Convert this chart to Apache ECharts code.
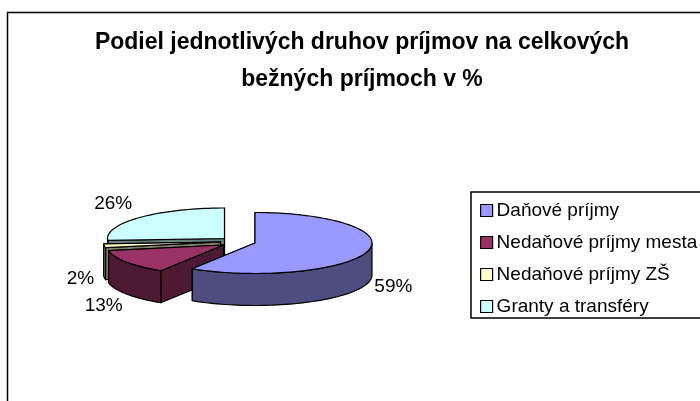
<!DOCTYPE html>
<html><head><meta charset="utf-8">
<style>html,body{margin:0;padding:0;background:#fff}#c{width:700px;height:401px}</style>
<script src="https://cdn.jsdelivr.net/npm/echarts@6/dist/echarts.min.js"></script>
</head><body><div id="c"></div>
<script>
const categories = ['Daňové príjmy','Nedaňové príjmy mesta','Nedaňové príjmy ZŠ','Granty a transféry'];
const values = [59,13,2,26];
const topColors = ['#9999ff','#993366','#ffffcc','#ccffff'];
const sideColors = ['#4d4d80','#4d1a33','#808066','#668080'];
const titleLines = ['Podiel jednotlivých druhov príjmov na celkových','bežných príjmoch v %'];

const RX = 117, RY = 30.5, DEPTH = 32;
const apex = [[255,243],[223.5,245],[220.5,242],[224.5,238.5]];
const labelOffset = [[26,35],[-23,44],[-24,33],[-26,-14]];
const total = values.reduce((a,b)=>a+b,0);
const ends = []; values.reduce((s,v,i)=>{ends[i]=s+v;return s+v;},0);

function pt(i,deg,dy){
  const r = deg*Math.PI/180;
  return [apex[i][0]+RX*Math.sin(r), apex[i][1]-RY*Math.cos(r)+(dy||0)];
}
function arc(i,a0,a1,dy){
  const out=[], n=Math.max(2,Math.ceil(Math.abs(a1-a0)/2));
  for(let k=0;k<=n;k++) out.push(pt(i,a0+(a1-a0)*k/n,dy));
  return out;
}
const edge = {stroke:'#000',lineWidth:1.2,lineJoin:'round'};
function poly(points,fill){ return {type:'polygon',shape:{points},style:Object.assign({fill},edge)}; }

function renderSlice(i){
  return function(params,api){
    const v = api.value(0);
    const a1 = ends[i]/total*360, a0 = a1 - v/total*360;
    const c = apex[i], cd=[c[0],c[1]+DEPTH];
    const children=[];
    const side=sideColors[i];
    [a0,a1].sort((p,q)=>pt(i,p)[1]-pt(i,q)[1])
      .forEach(a=>children.push(poly([c,pt(i,a),pt(i,a,DEPTH),cd],side)));
    const w0=Math.max(a0,90), w1=Math.min(a1,270);
    if(w1>w0) children.push(poly(arc(i,w0,w1).concat(arc(i,w1,w0,DEPTH)),side));
    children.push(poly([c].concat(arc(i,a0,a1)),topColors[i]));
    const m=pt(i,(a0+a1)/2);
    children.push({type:'text',z2:100,style:{
      x:m[0]+labelOffset[i][0],y:m[1]+labelOffset[i][1],
      text:v+'%',fill:'#000',align:'center',verticalAlign:'middle',
      font:'19px "Liberation Sans", Arial, sans-serif'}});
    return {type:'group',children};
  };
}
const chart = echarts.init(document.getElementById('c'),null,{renderer:'canvas'});
chart.setOption({
  animation:false,
  backgroundColor:'#fff',
  title:{text:titleLines.join('\n'),left:357,top:19,textAlign:'center',
    textStyle:{fontFamily:'"Liberation Sans", Arial, sans-serif',fontWeight:'bold',fontSize:23,lineHeight:37,color:'#000'}},
  legend:{orient:'vertical',left:471,top:192,width:260,padding:[9,40,2,9],itemGap:13,itemWidth:12,itemHeight:12,
    borderColor:'#000',borderWidth:1.5,backgroundColor:'#fff',icon:'rect',
    textStyle:{fontFamily:'"Liberation Sans", Arial, sans-serif',fontSize:19,color:'#000',padding:[0,0,0,-1]},
    data:categories.map((name,i)=>({name,icon:'rect',itemStyle:{color:topColors[i],borderColor:'#000',borderWidth:1.2}}))},
  graphic:[{type:'polyline',silent:true,shape:{points:[[7.5,420],[7.5,12.5],[720,12.5]]},style:{fill:null,stroke:'#000',lineWidth:1.5}}],
  series:categories.map((name,i)=>({
    name,type:'custom',coordinateSystem:'none',z:[14,13,12,11][i],
    itemStyle:{color:topColors[i]},
    renderItem:renderSlice(i),data:[[values[i]]],silent:true
  }))
});
</script></body></html>
